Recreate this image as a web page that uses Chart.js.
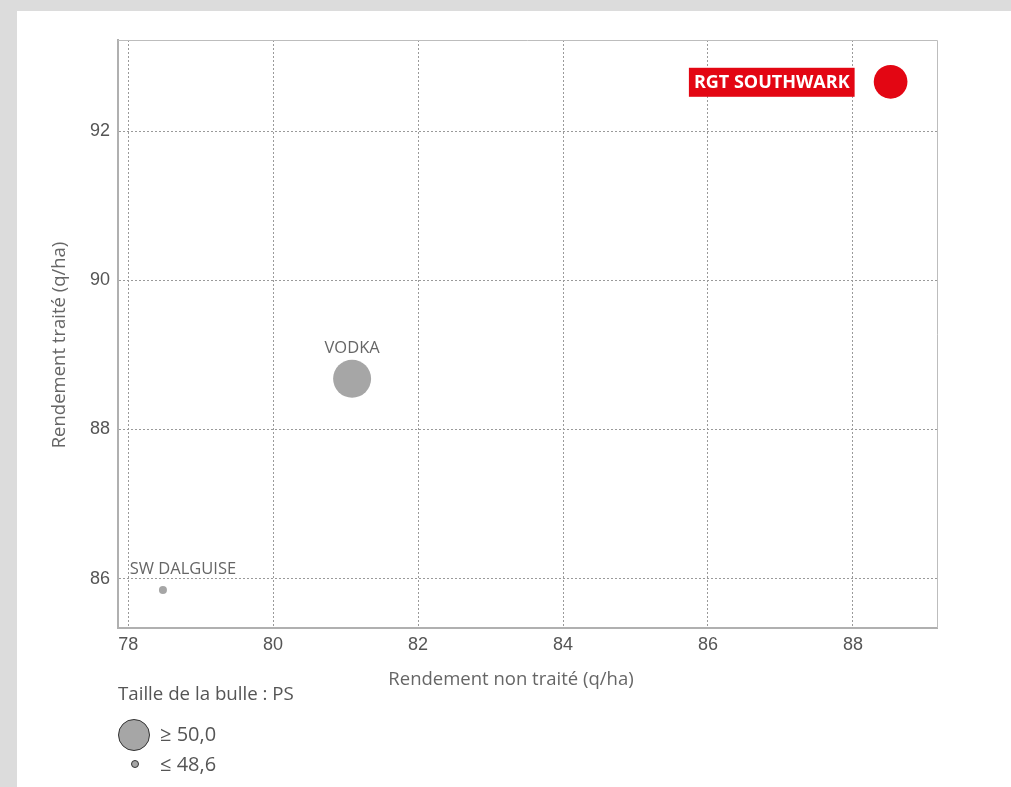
<!DOCTYPE html>
<html>
<head>
<meta charset="utf-8">
<script src="https://cdn.jsdelivr.net/npm/chart.js@4.4.1/dist/chart.umd.min.js"></script>
<style>
  html, body { margin:0; padding:0; width:1011px; height:787px; overflow:hidden; background:#dcdcdc; }
  #panel { position:absolute; left:17px; top:11px; right:0; bottom:0; background:#fff; }
  #chart { position:absolute; left:0; top:0; }
  #legend { position:absolute; left:118px; top:678px; font-family:"Open Sans", sans-serif; color:#555; }
  #legend .title { font-size:18.7px; line-height:30px; }
  #legend .row { position:relative; height:30px; }
  #legend .dot { position:absolute; background:#a6a6a6; border:1px solid #333; border-radius:50%; box-sizing:border-box; }
  #legend .lbl { position:absolute; left:42px; font-size:20px; line-height:30px; top:0; }
</style>
</head>
<body>
<div id="panel"></div>
<canvas id="chart" width="1011" height="787"></canvas>
<div id="legend">
  <div class="title">Taille de la bulle : PS</div>
  <div class="row" style="margin-top:11px"><div class="dot" style="left:0;top:0;width:32px;height:32px"></div><div class="lbl">≥ 50,0</div></div>
  <div class="row"><div class="dot" style="left:13px;top:11px;width:8px;height:8px"></div><div class="lbl">≤ 48,6</div></div>
</div>
<script>
// ---- data ----
const varieties = ['RGT SOUTHWARK', 'VODKA', 'SW DALGUISE'];
const untreatedYield = [88.52, 81.09, 78.48];
const treatedYield = [92.66, 88.68, 85.85];
const psValues = [49.8, 50.0, 48.6];
const xTickValues = [78, 80, 82, 84, 86, 88];
const yTickValues = [86, 88, 90, 92];
const xTitle = 'Rendement non traité (q/ha)';
const yTitle = 'Rendement traité (q/ha)';

// ---- styles ----
const highlight = 'RGT SOUTHWARK';
const RED = '#e30613', GREY = '#a6a6a6';
function radiusFor(ps) { return 4 + (ps - 48.6) / (50.0 - 48.6) * 15; }
const labelOffsets = { 'VODKA': [0, -30], 'SW DALGUISE': [20, -21] };

const labelPlugin = {
  id: 'pointLabels',
  beforeDatasetsDraw(chart) {
    const {ctx, chartArea: a} = chart;
    ctx.save();
    ctx.strokeStyle = '#bdbdbd';
    ctx.lineWidth = 1;
    ctx.beginPath();
    ctx.moveTo(a.left, a.top + 0.5);
    ctx.lineTo(a.right + 0.5, a.top + 0.5);
    ctx.lineTo(a.right + 0.5, a.bottom);
    ctx.stroke();
    // axis titles
    ctx.fillStyle = '#666';
    ctx.font = '18.5px "Open Sans", sans-serif';
    ctx.textAlign = 'center';
    ctx.textBaseline = 'middle';
    ctx.fillText(xTitle, 511, 680);
    ctx.translate(60, 345);
    ctx.rotate(-Math.PI / 2);
    ctx.fillText(yTitle, 0, 0);
    ctx.restore();
  },
  afterDatasetsDraw(chart) {
    const ctx = chart.ctx;
    const meta = chart.getDatasetMeta(0);
    meta.data.forEach((el, i) => {
      const name = varieties[i];
      ctx.save();
      if (name === highlight) {
        ctx.font = 'bold 18px "Open Sans", sans-serif';
        const w = ctx.measureText(name).width + 10;
        const right = el.x - 36;
        ctx.fillStyle = RED;
        ctx.fillRect(right - w, el.y - 14, w, 29);
        ctx.fillStyle = '#fff';
        ctx.textAlign = 'center';
        ctx.textBaseline = 'middle';
        ctx.fillText(name, right - w / 2, el.y + 1);
      } else {
        const off = labelOffsets[name] || [0, -20];
        ctx.font = '16.5px "Open Sans", sans-serif';
        ctx.fillStyle = '#666';
        ctx.textAlign = 'center';
        ctx.textBaseline = 'middle';
        ctx.fillText(name, el.x + off[0], el.y + off[1]);
      }
      ctx.restore();
    });
  }
};

new Chart(document.getElementById('chart'), {
  type: 'bubble',
  data: {
    datasets: [{
      data: varieties.map((v, i) => ({ x: untreatedYield[i], y: treatedYield[i], r: radiusFor(psValues[i]) })),
      backgroundColor: varieties.map(v => v === highlight ? RED : GREY),
      borderWidth: 0,
      hoverRadius: 0
    }]
  },
  options: {
    responsive: false,
    animation: false,
    events: [],
    layout: { padding: { left: 0, top: 40, right: 74, bottom: 79 } },
    plugins: { legend: { display: false }, tooltip: { enabled: false } },
    scales: {
      x: {
        type: 'linear', min: 77.86, max: 89.16,
        afterBuildTicks: s => { s.ticks = xTickValues.map(v => ({ value: v })); },
        afterFit: s => { s.height = 80; },
        grid: { color: '#9a9a9a', lineWidth: 1, drawTicks: false },
        border: { color: '#b0b0b0', width: 2, dash: [2, 2] },
        ticks: { color: '#555', font: { family: 'Liberation Sans', size: 18 }, padding: 6 }
      },
      y: {
        type: 'linear', min: 85.34, max: 93.22,
        afterBuildTicks: s => { s.ticks = yTickValues.map(v => ({ value: v })); },
        afterFit: s => { s.width = 118; },
        grid: { color: '#9a9a9a', lineWidth: 1, drawTicks: false },
        border: { color: '#b0b0b0', width: 2, dash: [2, 2] },
        ticks: { color: '#555', font: { family: 'Liberation Sans', size: 18 }, padding: 8 }
      }
    }
  },
  plugins: [labelPlugin]
});
</script>
</body>
</html>
